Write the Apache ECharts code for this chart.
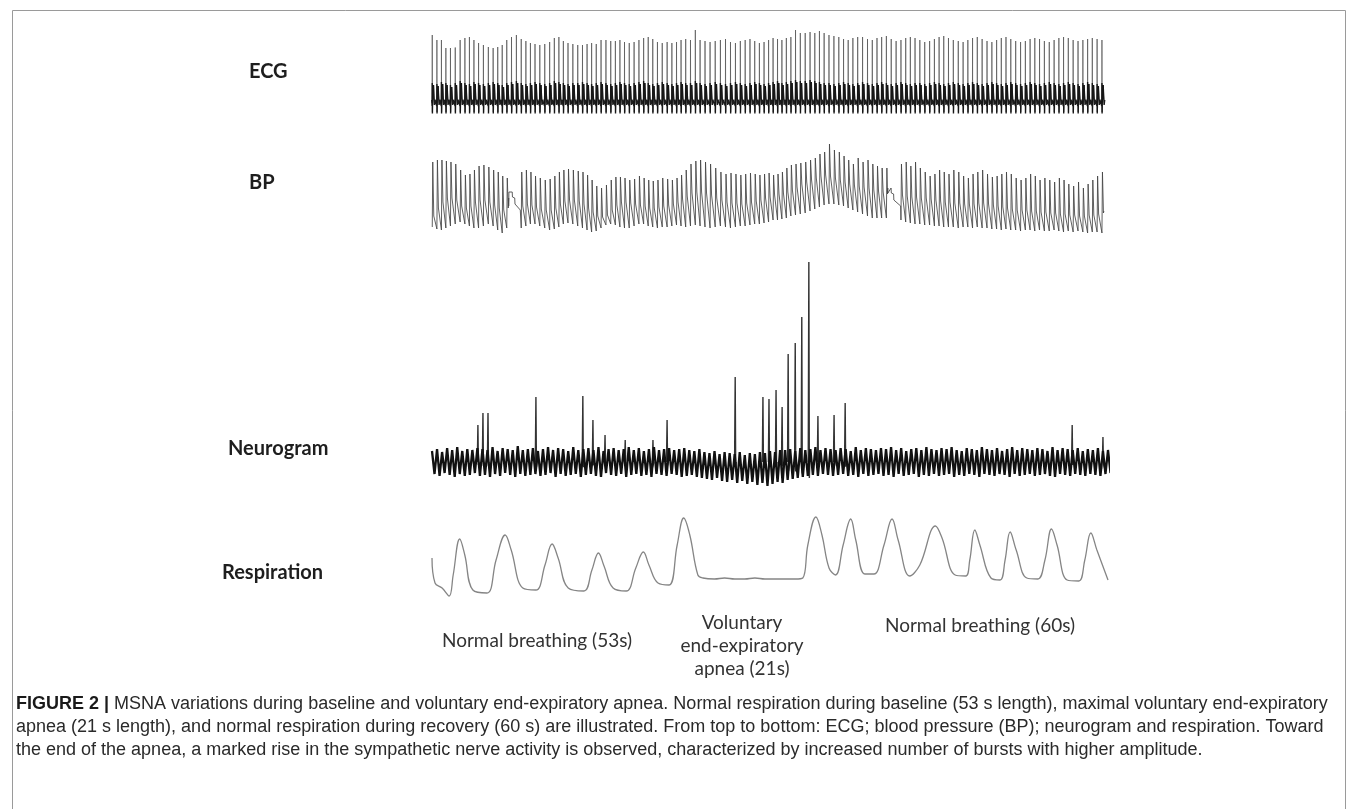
<!DOCTYPE html>
<html>
<head>
<meta charset="utf-8">
<script src="https://cdn.jsdelivr.net/npm/echarts@6/dist/echarts.min.js"></script>
<style>html,body{margin:0;padding:0;background:#fff;}#c{width:1358px;height:809px;}</style>
</head>
<body>
<div id="c"></div>
<script>
// ---------- time axis (seconds) ----------
const xMaxSec = 134;
const firstBeat = 0.05;

// ---------- heart beats: RR intervals (s) ----------
const rrBaseline = [0.92,0.90,0.88,0.91,0.95,0.97,0.94,0.90,0.89,0.92,0.96,0.98,0.95,0.91,0.89,0.90,0.94,0.97,0.96,0.92,0.90,0.91,0.95,0.98,0.97,0.93,0.90,0.89,0.92,0.96,0.97,0.94,0.91,0.90,0.92,0.95,0.97,0.95,0.92,0.90,0.91,0.94,0.96,0.96,0.93,0.91,0.90,0.93,0.95,0.97,0.94,0.92,0.90,0.92,0.95,0.96,0.94];
const rrApnea = [0.98,1.00,1.02,1.03,1.01,0.99,0.98,0.97,0.96,0.95,0.94,0.93,0.92,0.90,0.89,0.88,0.87,0.88,0.90,0.92,0.95,0.97];
const rrRecovery = [0.96,0.94,0.92,0.93,0.96,0.98,0.97,0.94,0.92,0.93,0.95,0.97,0.98,0.95,0.93,0.92,0.94,0.96,0.97,0.96,0.94,0.92,0.93,0.95,0.97,0.97,0.95,0.93,0.92,0.94,0.96,0.98,0.96,0.94,0.93,0.94,0.96,0.97,0.96,0.94,0.93,0.93,0.95,0.97,0.97,0.95,0.94,0.93,0.94,0.96,0.97,0.96,0.94,0.93,0.94,0.96,0.97,0.96,0.94,0.93,0.95,0.96,0.95];

// ---------- ECG: R-wave amplitude per beat (mV) ----------
const ecgR = [1.30,1.20,1.20,1.04,1.04,1.05,1.20,1.24,1.26,1.20,1.14,1.10,1.06,1.04,1.06,1.10,1.20,1.26,1.30,1.22,1.18,1.14,1.12,1.10,1.12,1.16,1.24,1.26,1.18,1.14,1.12,1.10,1.10,1.12,1.14,1.12,1.20,1.20,1.18,1.18,1.20,1.16,1.14,1.16,1.20,1.24,1.26,1.22,1.16,1.14,1.16,1.14,1.16,1.20,1.22,1.20,1.40,
1.20,1.18,1.16,1.18,1.20,1.22,1.16,1.14,1.18,1.20,1.22,1.18,1.14,1.16,1.20,1.24,1.22,1.20,1.24,1.26,1.40,1.34,
1.34,1.36,1.34,1.38,1.34,1.30,1.28,1.26,1.22,1.20,1.24,1.26,1.26,1.22,1.20,1.24,1.26,1.28,1.22,1.18,1.20,1.24,1.26,1.24,1.20,1.16,1.18,1.22,1.26,1.28,1.24,1.20,1.18,1.16,1.20,1.24,1.26,1.22,1.18,1.16,1.20,1.24,1.26,1.22,1.18,1.16,1.18,1.22,1.24,1.22,1.18,1.16,1.20,1.24,1.26,1.24,1.20,1.18,1.20,1.22,1.24,1.22,1.20];
// ECG T-wave amplitude per beat (mV)
const ecgTwave = [0.30,0.28,0.32,0.30,0.26,0.30,0.34,0.30,0.28,0.32,0.30,0.28,0.30,0.32,0.30,0.26,0.30,0.32,0.34,0.30,0.28,0.30,0.32,0.30,0.28,0.30,0.34,0.32,0.30,0.28,0.30,0.30,0.32,0.30,0.28,0.30,0.32,0.30,0.28,0.30,0.32,0.30,0.28,0.30,0.32,0.34,0.30,0.28,0.30,0.32,0.30,0.28,0.30,0.32,0.30,0.30,0.34,
0.30,0.28,0.30,0.32,0.30,0.28,0.30,0.32,0.30,0.28,0.30,0.32,0.30,0.28,0.30,0.32,0.34,0.30,0.32,0.34,0.36,0.34,
0.34,0.36,0.34,0.32,0.30,0.30,0.28,0.30,0.32,0.30,0.28,0.30,0.32,0.30,0.28,0.30,0.32,0.30,0.28,0.30,0.32,0.30,0.28,0.30,0.30,0.28,0.30,0.32,0.30,0.28,0.30,0.32,0.30,0.28,0.30,0.32,0.30,0.28,0.30,0.32,0.30,0.28,0.30,0.32,0.30,0.28,0.30,0.32,0.30,0.28,0.30,0.32,0.30,0.28,0.30,0.32,0.30,0.28,0.30,0.32,0.30,0.28,0.30];

// ---------- BP per beat (mmHg) ----------
const bpSys = [128,130,130,129,128,126,120,115,116,120,124,125,123,120,118,114,112,112,112,118,120,118,114,112,110,111,114,118,120,121,120,119,118,115,110,104,102,105,110,113,113,112,110,111,114,112,110,109,110,112,111,110,112,115,120,126,129,
130,128,126,122,118,116,117,116,115,116,117,116,115,116,117,115,116,118,122,125,126,127,
128,130,132,136,138,146,140,138,134,130,126,132,128,130,126,124,122,122,122,122,126,128,124,128,122,118,114,116,120,118,116,120,118,114,112,116,118,120,116,113,114,116,118,116,112,110,112,116,114,110,112,110,108,112,110,106,104,108,102,106,110,114,118];
const bpDia = [63,61,60,62,64,66,68,66,64,62,62,64,66,64,60,57,62,62,62,62,64,66,66,64,62,60,61,63,66,67,66,64,62,60,58,59,62,65,66,65,63,62,62,64,66,66,64,63,62,63,63,64,65,64,63,64,65,
64,63,62,63,64,63,62,63,64,64,65,66,66,67,68,70,70,71,72,74,75,76,
77,79,81,83,85,86,86,85,84,82,80,78,76,74,72,72,72,72,72,72,70,68,67,66,66,65,65,64,64,63,63,63,62,63,63,62,63,62,62,61,61,60,61,60,60,59,60,60,59,60,59,59,60,59,58,59,58,59,58,57,58,58,57];
const bpNotch = [74,82,88,92,92,90,84,82,84,88,90,90,88,85,82,80,82,82,82,84,86,85,83,81,80,80,82,86,89,90,90,89,86,82,78,74,73,75,80,85,88,88,87,86,85,84,82,82,83,84,85,86,88,91,94,97,98,
98,97,95,92,90,88,87,87,86,87,88,89,90,92,93,95,96,97,98,100,103,106,
108,110,112,114,115,114,112,110,108,106,105,104,103,102,100,99,98,97,96,95,95,94,93,93,92,92,91,90,89,88,88,87,87,86,86,86,87,87,86,85,84,83,82,81,80,80,80,79,79,78,78,77,77,76,76,75,75,74,74,75,75,76,77];
// calibration (physiocal) periods: [start s, end s], levels (mmHg)
const bpCalWindows = [[15.2, 17.5], [90.3, 92.9]];
const bpCalLevels = [[98, 86], [102, 90]];

// ---------- Neurogram (a.u.) ----------
const neuroHi = [11,13,10,14,12,15,11,13,12,14,13,12,15,11,14,13,12,16,12,13,14,11,13,15,12,14,13,11,15,12,13,14,12,15,11,13,14,12,13,15,12,14,11,13,15,12,13,14,12,13,14,12,11,13,10,9,11,8,10,9,8,10,7,9,8,10,9,11,10,12,12,13,11,14,12,13,15,12,14,13,12,14,13,11,15,12,14,13,12,14,13,15,12,14,11,13,14,12,15,13,12,14,13,15,12,11,14,13,12,15,13,12,14,11,13,15,12,14,13,12,14,13,11,15,12,14,13,12,14,11,13,12,14,11,12];
const neuroLo = [-12,-14,-11,-13,-15,-12,-14,-13,-11,-14,-13,-15,-12,-14,-11,-13,-15,-12,-14,-13,-12,-14,-13,-11,-15,-12,-14,-13,-12,-15,-13,-12,-14,-15,-11,-13,-14,-12,-15,-13,-12,-14,-13,-15,-12,-13,-14,-12,-13,-15,-14,-13,-15,-16,-17,-18,-16,-19,-20,-18,-21,-19,-22,-20,-23,-21,-24,-22,-20,-21,-18,-17,-16,-15,-14,-13,-14,-12,-13,-14,-13,-12,-14,-13,-15,-12,-14,-13,-12,-14,-13,-15,-12,-14,-13,-12,-15,-13,-14,-12,-14,-13,-12,-15,-13,-14,-12,-13,-15,-12,-13,-14,-12,-13,-15,-12,-14,-13,-12,-14,-13,-12,-14,-15,-12,-13,-14,-12,-13,-14,-12,-13,-14,-12,-11];
const spikeT = [9.1,10.1,11.1,20.6,29.9,31.9,34.3,38.3,43.8,46.6,60.1,65.6,66.8,68.2,69.4,70.6,72.0,73.3,74.7,76.5,79.7,81.9,126.9,133.0];
const spikeA = [37,49,49,65,66,42,27,22,22,42,85,65,63,72,55,108,119,145,200,46,47,59,37,25];

// ---------- Respiration (a.u.) ----------
const respT = [0,0.6,2.0,3.4,4.2,5.5,6.5,8.1,10.9,12.7,14.5,15.7,18.0,20.6,22.4,23.8,25.0,27.0,30.1,31.7,33.0,34.1,35.9,38.5,40.4,41.9,43.0,44.8,47.0,48.6,49.9,51.1,52.7,53.7,56,58,60,62,64,66,68,70,72,73.5,74.5,76.1,77.3,78.7,80.0,81.5,83.0,84.0,85.8,87.6,89.6,91.2,92.4,94.7,96.7,99.8,101.1,103.7,105.8,106.6,107.6,108.6,110.8,112.6,113.6,114.6,115.8,117.9,120.1,121.5,122.8,123.9,125.9,128.2,129.4,130.6,131.8,134.0];
const respV = [47,22,17,9,30,66,50,15,12,45,70,55,17,15,40,61,47,17,14,35,52,39,17,14,37,53,40,22,20,60,87,70,30,27,26,27,26,26,27,26,26,26,26,27,60,88,70,37,30,60,86,65,31,31,60,86,65,29,40,79,67,30,29,45,75,60,27,25,45,73,55,27,26,45,76,60,25,24,45,72,55,25];

// ---------- texts ----------
const traceLabels = ['ECG', 'BP', 'Neurogram', 'Respiration'];
const phaseLabels = ['Normal breathing (53s)', 'Voluntary\nend-expiratory\napnea (21s)', 'Normal breathing (60s)'];
const captionLines = [
  'MSNA variations during baseline and voluntary end-expiratory apnea. Normal respiration during baseline (53 s length), maximal voluntary end-expiratory',
  'apnea (21 s length), and normal respiration during recovery (60 s) are illustrated. From top to bottom: ECG; blood pressure (BP); neurogram and respiration. Toward',
  'the end of the apnea, a marked rise in the sympathetic nerve activity is observed, characterized by increased number of bursts with higher amplitude.'
];

// ---------- build traces ----------
const rr = rrBaseline.concat(rrApnea, rrRecovery);
const beatT = [];
{ let t = firstBeat; for (let i = 0; i < rr.length; i++) { beatT.push(t); t += rr[i]; } }

// full ECG (thin spikes) and the dense QRS/T complex part (darker)
const ecgData = [];
const ecgBaseData = [];
beatT.forEach((t, i) => {
  if (t > xMaxSec) return;
  const R = ecgR[i], T = ecgTwave[i];
  ecgData.push([t - 0.08, 0], [t - 0.02, -0.06], [t, R], [t + 0.03, -0.24], [t + 0.07, 0.03], [t + 0.24, T], [t + 0.40, 0]);
  ecgBaseData.push([t - 0.1, 0], [t - 0.03, -0.12], [t, T + 0.04], [t + 0.03, -0.27], [t + 0.08, 0.05], [t + 0.17, T * 0.7], [t + 0.25, T], [t + 0.33, 0.08], [t + 0.43, -0.1], [t + 0.55, 0.0]);
});

const bpData = [];
beatT.forEach((t, i) => {
  if (t > xMaxSec) return;
  const inCal = bpCalWindows.some(w => t >= w[0] - 0.2 && t <= w[1]);
  if (inCal) return;
  bpData.push([t, bpDia[i]], [t + 0.1, bpSys[i]], [t + 0.3, bpNotch[i]], [t + 0.38, bpNotch[i] + 2]);
});
bpCalWindows.forEach((w, k) => {
  const l = bpCalLevels[k];
  bpData.push([w[0], l[0] - 6], [w[0] + 0.05, l[0]], [w[0] + 0.7, l[0]], [w[0] + 0.75, l[0] - 5], [w[0] + 1.2, l[0] - 6], [w[0] + 1.25, l[1]], [w[1], l[1] - 6]);
});
bpData.sort((a, b) => a[0] - b[0]);

const noiseData = [];
for (let k = 0; k < neuroHi.length; k++) { noiseData.push([k, neuroHi[k]], [k + 0.5, neuroLo[k]]); }

const spikeData = spikeT.map((t, i) => ({ coords: [[t - 0.12, 0], [t, spikeA[i]], [t + 0.1, -spikeA[i] * 0.08], [t + 0.2, 0]] }));

const respData = respT.map((t, i) => [t, respV[i]]);

// ---------- layout ----------
const gridLeft = 432, gridWidth = 676;
const grids = [
  { left: gridLeft, width: gridWidth, top: 20, height: 100 },
  { left: gridLeft, width: gridWidth, top: 130, height: 110 },
  { left: gridLeft, width: gridWidth, top: 250, height: 240 },
  { left: gridLeft, width: gridWidth, top: 505, height: 100 }
];
const yRanges = [[-0.4, 1.6], [50, 160], [-28, 212], [0, 100]];

const labelFont = 'bold 20px Lato, "Open Sans", sans-serif';
const phaseFont = '19px Lato, "Open Sans", sans-serif';
const capFont = '18px "Liberation Sans", Arial, sans-serif';
const capBold = 'bold 18px "Liberation Sans", Arial, sans-serif';

const graphic = [
  { type: 'rect', shape: { x: 12.5, y: 10.5, width: 1333, height: 840 }, style: { fill: 'none', stroke: '#9a9a9a', lineWidth: 1 }, silent: true },
  { type: 'text', x: 249, y: 72, style: { text: traceLabels[0], font: labelFont, fill: '#1e1e1e', textVerticalAlign: 'middle' } },
  { type: 'text', x: 249, y: 183, style: { text: traceLabels[1], font: labelFont, fill: '#1e1e1e', textVerticalAlign: 'middle' } },
  { type: 'text', x: 228, y: 449, style: { text: traceLabels[2], font: labelFont, fill: '#1e1e1e', textVerticalAlign: 'middle' } },
  { type: 'text', x: 222, y: 573, style: { text: traceLabels[3], font: labelFont, fill: '#1e1e1e', textVerticalAlign: 'middle' } },
  { type: 'text', x: 537, y: 641, style: { text: phaseLabels[0], font: phaseFont, fill: '#333', textAlign: 'center', textVerticalAlign: 'middle' } },
  { type: 'text', x: 742, y: 646, style: { text: phaseLabels[1], font: phaseFont, fill: '#333', textAlign: 'center', textVerticalAlign: 'middle', lineHeight: 23 } },
  { type: 'text', x: 980, y: 626, style: { text: phaseLabels[2], font: phaseFont, fill: '#333', textAlign: 'center', textVerticalAlign: 'middle' } },
  { type: 'text', x: 16, y: 704, style: { text: '{b|FIGURE 2 |} ' + captionLines[0], font: capFont, fill: '#2a2a2a', textVerticalAlign: 'middle', rich: { b: { font: capBold, fill: '#1a1a1a' } } } },
  { type: 'text', x: 16, y: 727, style: { text: captionLines[1], font: capFont, fill: '#2a2a2a', textVerticalAlign: 'middle' } },
  { type: 'text', x: 16, y: 750, style: { text: captionLines[2], font: capFont, fill: '#2a2a2a', textVerticalAlign: 'middle' } }
];

const chart = echarts.init(document.getElementById('c'), null, { renderer: 'canvas' });
chart.setOption({
  backgroundColor: '#fff',
  animation: false,
  grid: grids,
  xAxis: grids.map((g, i) => ({ type: 'value', gridIndex: i, min: 0, max: xMaxSec, show: false })),
  yAxis: grids.map((g, i) => ({ type: 'value', gridIndex: i, min: yRanges[i][0], max: yRanges[i][1], show: false })),
  graphic: graphic,
  series: [
    { name: 'ECG', type: 'line', xAxisIndex: 0, yAxisIndex: 0, data: ecgData, showSymbol: false, symbol: 'none', lineStyle: { color: '#555', width: 0.8, opacity: 0.9 }, silent: true },
    { name: 'ECG complex', type: 'line', xAxisIndex: 0, yAxisIndex: 0, data: ecgBaseData, showSymbol: false, symbol: 'none', lineStyle: { color: '#111', width: 1.4, opacity: 0.95 }, silent: true },
    { name: 'BP', type: 'line', xAxisIndex: 1, yAxisIndex: 1, data: bpData, showSymbol: false, symbol: 'none', lineStyle: { color: '#444', width: 1, opacity: 0.85 }, silent: true },
    { name: 'Neurogram noise', type: 'line', xAxisIndex: 2, yAxisIndex: 2, data: noiseData, showSymbol: false, symbol: 'none', lineStyle: { color: '#111', width: 2.3 }, silent: true },
    { name: 'Neurogram bursts', type: 'lines', coordinateSystem: 'cartesian2d', xAxisIndex: 2, yAxisIndex: 2, polyline: true, data: spikeData, lineStyle: { color: '#333', width: 1.4, opacity: 1 }, silent: true },
    { name: 'Respiration', type: 'line', xAxisIndex: 3, yAxisIndex: 3, data: respData, showSymbol: false, symbol: 'none', smooth: 0.4, lineStyle: { color: '#858585', width: 1.3 }, silent: true }
  ]
});
</script>
</body>
</html>
